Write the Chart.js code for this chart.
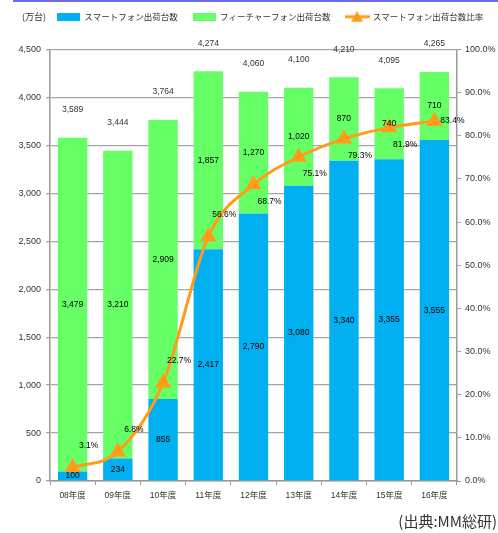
<!DOCTYPE html>
<html><head><meta charset="utf-8">
<script src="https://cdn.jsdelivr.net/npm/chart.js@4.4.1/dist/chart.umd.min.js"></script>
<style>
html,body{margin:0;padding:0;background:#fff;}
#wrap{position:relative;width:498px;height:533px;}
#topline{position:absolute;left:13px;right:0;top:0;height:2px;background:#6e6ee6;}
</style></head><body>
<div id="wrap"><canvas id="c" width="498" height="533"></canvas><div id="topline"></div></div>
<script>
const categories = ['08年度','09年度','10年度','11年度','12年度','13年度','14年度','15年度','16年度'];
const smartphone = [100, 234, 855, 2417, 2790, 3080, 3340, 3355, 3555];
const featurephone = [3479, 3210, 2909, 1857, 1270, 1020, 870, 740, 710];
const totals = [3589, 3444, 3764, 4274, 4060, 4100, 4210, 4095, 4265];
const ratio = [3.1, 6.8, 22.7, 56.6, 68.7, 75.1, 79.3, 81.9, 83.4];
const seriesNames = ['スマートフォン出荷台数', 'フィーチャーフォン出荷台数', 'スマートフォン出荷台数比率'];
const unitLabel = '(万台)';
const sourceLabel = '(出典:MM総研)';

const BLUE = '#00B0F0', GREEN = '#66FF66', ORANGE = '#FF9C1A';
const NUMFONT = "'Liberation Sans', 'Noto Sans CJK JP', sans-serif";
const JPFONT = "'Noto Sans CJK JP', 'Liberation Sans', sans-serif";

function rectIcon(color) {
  const c = document.createElement('canvas'); c.width = 23; c.height = 8;
  const x = c.getContext('2d'); x.fillStyle = color; x.fillRect(0, 0, 23, 8); return c;
}
function lineIcon() {
  const c = document.createElement('canvas'); c.width = 25; c.height = 12;
  const x = c.getContext('2d');
  x.strokeStyle = ORANGE; x.lineWidth = 3; x.beginPath(); x.moveTo(0, 6); x.lineTo(25, 6); x.stroke();
  x.fillStyle = ORANGE; x.beginPath(); x.moveTo(12.5, 0); x.lineTo(18.5, 11); x.lineTo(6.5, 11); x.closePath(); x.fill();
  return c;
}
const icons = [rectIcon(BLUE), rectIcon(GREEN), lineIcon()];

const labelPlugin = {
  id: 'customLabels',
  afterLayout(chart) {
    const lg = chart.legend; if (!lg) return;
    const h = lg.height, w = lg.width;
    lg.top = -2.5; lg.bottom = lg.top + h;
    lg.left = 42; lg.right = lg.left + w;
  },
  afterDatasetsDraw(chart) {
    const ctx = chart.ctx;
    ctx.save();
    ctx.textAlign = 'center'; ctx.textBaseline = 'middle';
    ctx.font = '8.5px ' + NUMFONT;
    ctx.fillStyle = '#000';
    const fmt = v => v.toLocaleString('en-US');
    [0, 1].forEach(di => {
      const meta = chart.getDatasetMeta(di);
      meta.data.forEach((el, i) => {
        const p = el.getProps(['x', 'y', 'base'], true);
        ctx.fillText(fmt(chart.data.datasets[di].data[i]), p.x, (p.y + p.base) / 2);
      });
    });
    // totals
    ctx.fillStyle = '#333';
    const top = chart.getDatasetMeta(1);
    top.data.forEach((el, i) => {
      const p = el.getProps(['x', 'y'], true);
      ctx.fillText(fmt(totals[i]), p.x, p.y - 28);
    });
    // ratio labels
    ctx.fillStyle = '#000';
    const lm = chart.getDatasetMeta(2);
    const n = lm.data.length;
    lm.data.forEach((el, i) => {
      const p = el.getProps(['x', 'y'], true);
      const v = ratio[i];
      let dx = 16, dy;
      if (i === n - 1) { dy = 0; dx = 18; }
      else if (v < 60) dy = -22;
      else dy = 17;
      ctx.fillText(v.toFixed(1) + '%', p.x + dx, p.y + dy);
    });
    ctx.restore();
  },
  afterDraw(chart) {
    const ctx = chart.ctx;
    ctx.save();
    ctx.fillStyle = '#333';
    ctx.textBaseline = 'middle';
    ctx.textAlign = 'center';
    ctx.font = '9px ' + JPFONT;
    ctx.fillText(unitLabel, 34, 17);
    ctx.textAlign = 'right';
    ctx.font = '15px ' + JPFONT;
    ctx.fillText(sourceLabel, 497, 521);
    ctx.restore();
  }
};

new Chart(document.getElementById('c'), {
  data: {
    labels: categories,
    datasets: [
      { type: 'bar', label: seriesNames[0], data: smartphone, backgroundColor: BLUE, yAxisID: 'y', order: 1,
        barPercentage: 0.65, categoryPercentage: 1 },
      { type: 'bar', label: seriesNames[1], data: featurephone, backgroundColor: GREEN, yAxisID: 'y', order: 1,
        barPercentage: 0.65, categoryPercentage: 1 },
      { type: 'line', label: seriesNames[2], data: ratio, yAxisID: 'y1', order: 0,
        borderColor: ORANGE, backgroundColor: ORANGE, borderWidth: 3,
        cubicInterpolationMode: 'monotone',
        pointStyle: 'triangle', pointRadius: 6.5, pointBackgroundColor: ORANGE, pointBorderColor: ORANGE }
    ]
  },
  options: {
    responsive: false,
    animation: false,
    layout: { padding: { top: 16, left: 0, right: 0, bottom: 30 } },
    plugins: {
      tooltip: { enabled: false },
      legend: {
        position: 'top', align: 'start',
        labels: {
          usePointStyle: true, pointStyleWidth: 23, boxHeight: 9, padding: 15,
          color: '#333', font: { size: 8.5, family: JPFONT },
          generateLabels: () => seriesNames.map((t, i) => ({
            text: t, pointStyle: icons[i], fillStyle: 'transparent', strokeStyle: 'transparent',
            lineWidth: 0, hidden: false, datasetIndex: i, fontColor: '#333'
          }))
        }
      }
    },
    scales: {
      x: {
        stacked: true,
        grid: { offset: true, drawOnChartArea: false, drawTicks: true, tickLength: 4, color: '#999' },
        border: { color: '#999', width: 1.5 },
        ticks: { color: '#333', padding: 6, font: { size: 8.5, family: NUMFONT }, maxRotation: 0 },
        afterFit(s) { s.height = 22; }
      },
      y: {
        stacked: true, min: 0, max: 4500,
        grid: { color: '#A6A6A6', lineWidth: 1.3, tickLength: 4, drawTicks: true },
        border: { color: '#999', width: 1.5 },
        ticks: { stepSize: 500, color: '#333', padding: 5, font: { size: 9, family: NUMFONT },
          callback: v => v.toLocaleString('en-US') },
        afterFit(s) { s.width = 50; }
      },
      y1: {
        position: 'right', min: 0, max: 100,
        grid: { drawOnChartArea: false, tickLength: 4, color: '#999' },
        border: { color: '#999', width: 1.5 },
        ticks: { stepSize: 10, color: '#333', padding: 4, font: { size: 9, family: NUMFONT },
          callback: v => v.toFixed(1) + '%' },
        afterFit(s) { s.width = 41; }
      }
    }
  },
  plugins: [labelPlugin]
});
</script>
</body></html>
